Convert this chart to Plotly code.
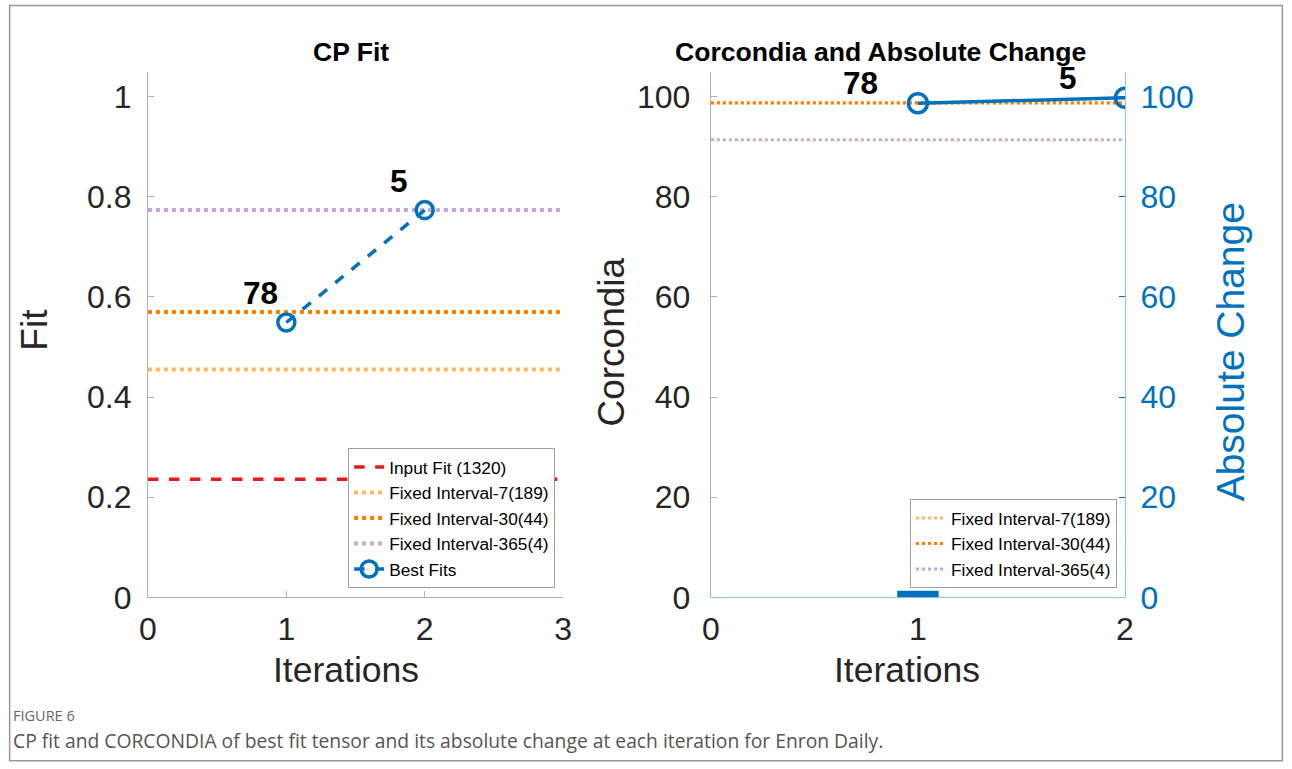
import plotly.graph_objects as go

# ---------------- data ----------------
iterations = [1, 2]
best_fit = [0.549, 0.7735]
best_labels = ["78", "5"]
input_fit = 0.236
input_fit_name = "Input Fit (1320)"
fixed_names = ["Fixed Interval-7(189)", "Fixed Interval-30(44)", "Fixed Interval-365(4)"]
fixed_fit = [0.455, 0.570, 0.7735]
fixed_corcondia = [98.7, 98.8, 91.4]
best_corcondia = [98.7, 99.8]
abs_change_x = [1]
abs_change = [1.3]
left_xticks = [0, 1, 2, 3]
right_xticks = [0, 1, 2]
fit_yticks = [0, 0.2, 0.4, 0.6, 0.8, 1]
corc_yticks = [0, 20, 40, 60, 80, 100]

# ---------------- styling ----------------
W, H = 1292, 781
FONT = "Liberation Sans, Arial, Helvetica, sans-serif"
TXT = "#262626"
AX = "#b0b0b0"
BLUE = "#0072BD"
LBLUE = "#8cc4ec"
fixed_colors = ["#FDB863", "#FF7F00", "#C5A8D8"]
RED = "#E41A1C"

# layout positions are given in target-picture pixels and converted to
# figure pixels (the captured page is slightly rescaled/offset)
SX, OX = 0.988, 7.8
SY, OY = 0.974, 1.5


def px(x):
    return ((x - OX) / SX) / W


def py(y):
    return 1 - ((y - OY) / SY) / H


fig = go.Figure()

# ---- left panel: CP Fit ----
fig.add_trace(go.Scatter(x=[left_xticks[0], left_xticks[-1]], y=[input_fit, input_fit],
                         mode="lines", name=input_fit_name,
                         line=dict(color=RED, width=3.5, dash="dash"),
                         xaxis="x", yaxis="y", legend="legend"))
for name, val, col in zip(fixed_names, fixed_fit, fixed_colors):
    fig.add_trace(go.Scatter(x=[left_xticks[0], left_xticks[-1]], y=[val, val],
                             mode="lines", name=name,
                             line=dict(color=col, width=4, dash="dot"),
                             xaxis="x", yaxis="y", legend="legend"))
fig.add_trace(go.Scatter(x=iterations, y=best_fit, mode="lines+markers", name="Best Fits",
                         line=dict(color=BLUE, width=3.5, dash="dash"),
                         marker=dict(symbol="circle-open", size=17, color=BLUE,
                                     line=dict(width=3.5, color=BLUE)),
                         xaxis="x", yaxis="y", legend="legend"))

# ---- right panel: Corcondia ----
for name, val, col in zip(fixed_names, fixed_corcondia, fixed_colors):
    fig.add_trace(go.Scatter(x=[right_xticks[0], right_xticks[-1]], y=[val, val],
                             mode="lines", name=name,
                             line=dict(color=col, width=3, dash="dot"),
                             xaxis="x2", yaxis="y2", legend="legend2"))
fig.add_trace(go.Bar(x=abs_change_x, y=abs_change, width=0.2, marker_color=BLUE,
                     marker_line_width=0, showlegend=False, xaxis="x2", yaxis="y3"))
fig.add_trace(go.Scatter(x=iterations, y=best_corcondia, mode="lines+markers",
                         line=dict(color=BLUE, width=3.5),
                         marker=dict(symbol="circle-open", size=19, color=BLUE,
                                     line=dict(width=3.5, color=BLUE)),
                         showlegend=False, cliponaxis=True, xaxis="x2", yaxis="y2"))

# point labels
ann = []
for xv, yv, lab in zip(iterations, best_fit, best_labels):
    ann.append(dict(x=xv, y=yv, xref="x", yref="y", text="<b>%s</b>" % lab, showarrow=False,
                    xshift=-26, yshift=29, font=dict(size=31.5, color="#000", family=FONT)))
for xv, yv, lab in zip(iterations, best_corcondia, best_labels):
    ann.append(dict(x=xv, y=yv, xref="x2", yref="y2", text="<b>%s</b>" % lab, showarrow=False,
                    xshift=-57, yshift=20, font=dict(size=31.5, color="#000", family=FONT)))

# panel titles
ann.append(dict(x=px(350), y=py(53), xref="paper", yref="paper", text="<b>CP Fit</b>",
                xanchor="center", yanchor="middle",
                showarrow=False, font=dict(size=26.5, color="#000", family=FONT)))
ann.append(dict(x=px(881), y=py(53), xref="paper", yref="paper",
                text="<b>Corcondia and Absolute Change</b>", xanchor="center", yanchor="middle",
                showarrow=False, font=dict(size=26.6, color="#000", family=FONT)))


# axis titles
def axtitle(x, y, text, angle=0, color=TXT, size=35.5):
    return dict(x=px(x), y=py(y), xref="paper", yref="paper", text=text, showarrow=False,
                xanchor="center", yanchor="middle", textangle=angle,
                font=dict(size=size, color=color, family=FONT))


ann.append(axtitle(33, 330, "Fit", -90, size=37))
ann.append(axtitle(345, 669, "Iterations"))
ann.append(axtitle(908, 669, "Iterations"))
ann.append(axtitle(612, 343, "Corcondia", -90, size=37))
ann.append(axtitle(1232, 352, "Absolute Change", -90, BLUE, size=39))

# caption
CAPF = "Open Sans, Lato, sans-serif"
ann.append(dict(x=px(10), y=py(715), xref="paper", yref="paper", text="FIGURE 6",
                xanchor="left", yanchor="middle", showarrow=False,
                font=dict(size=14.5, color="#666", family=CAPF)))
ann.append(dict(x=px(10), y=py(740), xref="paper", yref="paper",
                text="CP fit and CORCONDIA of best fit tensor and its absolute change at each iteration for Enron Daily.",
                xanchor="left", yanchor="middle", showarrow=False,
                font=dict(size=19.3, color="#555", family=CAPF)))

axis_common = dict(showgrid=False, zeroline=False, ticks="inside", ticklen=6,
                   tickfont=dict(size=32, color=TXT, family=FONT), showline=True, linewidth=1.2,
                   layer="below traces")

fig.update_layout(
    width=W, height=H, margin=dict(l=0, r=0, t=0, b=0),
    plot_bgcolor="white", paper_bgcolor="white",
    font=dict(family=FONT, color=TXT),
    xaxis=dict(domain=[px(147), px(563)], range=[0, 3], tickvals=left_xticks,
               linecolor=AX, tickcolor=AX, anchor="y", ticklabelstandoff=3,
               **axis_common),
    yaxis=dict(domain=[py(597), py(73)], range=[0, 1.05], tickvals=fit_yticks,
               linecolor=AX, tickcolor=AX, anchor="x", ticklabelstandoff=9,
               **axis_common),
    xaxis2=dict(domain=[px(711), px(1126)], range=[0, 2], tickvals=right_xticks,
                linecolor=LBLUE, tickcolor=AX, anchor="y2", ticklabelstandoff=3,
                **axis_common),
    yaxis2=dict(domain=[py(597), py(73)], range=[0, 105], tickvals=corc_yticks,
                linecolor=AX, tickcolor=AX, anchor="x2", ticklabelstandoff=13,
                **axis_common),
    yaxis3=dict(domain=[py(597), py(73)], range=[0, 105], tickvals=corc_yticks,
                overlaying="y2", side="right", anchor="x2",
                showgrid=False, zeroline=False, ticks="inside", ticklen=6,
                showline=True, linewidth=1.2, linecolor=LBLUE, tickcolor=BLUE,
                ticklabelstandoff=8, layer="below traces",
                tickfont=dict(size=32, color=BLUE, family=FONT)),
    legend=dict(x=px(555), y=py(588), xanchor="right", yanchor="bottom",
                bgcolor="white", bordercolor="#a0a0a0", borderwidth=1,
                font=dict(size=17.3, color="#000", family=FONT), itemwidth=30,
                tracegroupgap=0, traceorder="normal"),
    legend2=dict(x=px(1118), y=py(588), xanchor="right", yanchor="bottom",
                 bgcolor="white", bordercolor="#a0a0a0", borderwidth=1,
                 font=dict(size=17.3, color="#000", family=FONT), itemwidth=30,
                 traceorder="normal"),
    annotations=ann,
    shapes=[dict(type="rect", xref="paper", yref="paper", x0=max(px(8), 0.0005),
                 x1=min(px(1284), 0.9995), y0=max(py(760), 0.002), y1=py(7),
                 line=dict(color="#999", width=1.5), layer="below")],
    showlegend=True,
)

POST = (
    "var d=document.getElementById('{plot_id}');"
    "document.documentElement.style.margin='0';document.documentElement.style.padding='0';"
    "document.body.style.margin='0';document.body.style.padding='0';"
    "document.documentElement.style.overflow='hidden';document.body.style.overflow='hidden';"
    "d.style.position='fixed';d.style.left='0px';d.style.top='0px';"
)

fig.write_html("out.html", config={"displayModeBar": False}, post_script=POST)
